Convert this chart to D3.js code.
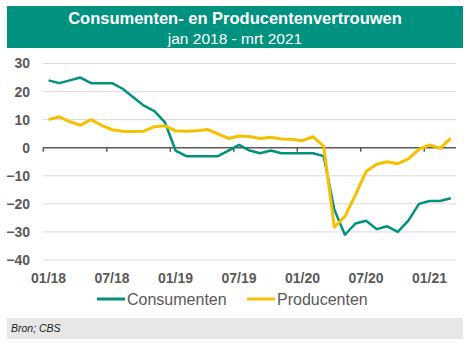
<!DOCTYPE html>
<html>
<head>
<meta charset="utf-8">
<script src="https://cdn.jsdelivr.net/npm/d3@7"></script>
<style>
  body { margin: 0; background: #fff; }
  svg { display: block; font-family: "Liberation Sans", Arial, sans-serif; }
</style>
</head>
<body>
<svg id="chart" width="470" height="349"></svg>
<script>
// maanden jan 2018 - mrt 2021
const months = []
for (let y = 18; y <= 21; y++) {
  for (let m = 1; m <= 12; m++) {
    if (y === 21 && m > 3) break
    months.push((m < 10 ? '0' + m : '' + m) + '/' + y)
  }
}
const consumenten = [24, 23, 24, 25, 23, 23, 23, 21, 18, 15, 13, 9,
  -1, -3, -3, -3, -3, -1, 1, -1, -2, -1, -2, -2,
  -2, -2, -3, -22, -31, -27, -26, -29, -28, -30, -26, -20,
  -19, -19, -18]
const producenten = [10, 11, 9.3, 8, 10, 8, 6.4, 5.9, 5.8, 5.9, 7.5, 7.8,
  6, 5.9, 6, 6.5, 4.9, 3.3, 4.2, 4, 3.3, 3.7, 3.1, 3,
  2.5, 3.9, 0.5, -28.3, -24.5, -16.8, -8.5, -5.9, -5, -5.7, -4, -0.6,
  1, -0.2, 3.3]
const yTicks = [30, 20, 10, 0, -10, -20, -30, -40]
const xLabels = ['01/18', '07/18', '01/19', '07/19', '01/20', '07/20', '01/21']

const teal = '#00917f'
const yellow = '#f5c000'
const grey = '#595959'

const svg = d3.select('#chart')

// titelbalk
svg.append('rect').attr('x', 7).attr('y', 6).attr('width', 456).attr('height', 42).attr('fill', teal)
svg.append('text').attr('x', 235).attr('y', 23.5).attr('text-anchor', 'middle')
  .attr('fill', '#fff').style('font-size', '16.5px').style('font-weight', 'bold')
  .text('Consumenten- en Producentenvertrouwen')
svg.append('text').attr('x', 235).attr('y', 44).attr('text-anchor', 'middle')
  .attr('fill', '#fff').style('font-size', '15.5px')
  .text('jan 2018 - mrt 2021')

const x = d3.scaleBand().domain(months).range([43.3, 456])
const y = d3.scaleLinear().domain([-40, 30]).range([260, 63.5])
const cx = d => x(d) + x.bandwidth() / 2

// rasterlijnen
svg.append('g').selectAll('line').data(yTicks.filter(d => d !== 0)).enter().append('line')
  .attr('x1', 43).attr('x2', 456)
  .attr('y1', d => y(d)).attr('y2', d => y(d))
  .attr('stroke', '#d9d9d9').attr('stroke-width', 1)

// y-as labels
const yAxis = d3.axisLeft(y).tickValues(yTicks).tickSize(0).tickPadding(0)
const gy = svg.append('g').attr('transform', 'translate(30,0)').call(yAxis)
gy.select('.domain').remove()
gy.selectAll('text').attr('fill', grey).style('font-size', '14px').style('font-weight', 'bold')
  .attr('font-family', null)

// nul-as met streepjes
svg.append('line').attr('x1', 43).attr('x2', 456).attr('y1', y(0)).attr('y2', y(0))
  .attr('stroke', grey).attr('stroke-width', 1.5)
svg.append('g').selectAll('line').data(months.filter((d, i) => i % 6 === 0)).enter().append('line')
  .attr('x1', d => x(d)).attr('x2', d => x(d))
  .attr('y1', y(0)).attr('y2', y(0) + 4)
  .attr('stroke', grey).attr('stroke-width', 1.5)

// x-as labels
svg.append('g').selectAll('text').data(xLabels).enter().append('text')
  .attr('x', d => cx(d)).attr('y', 283).attr('text-anchor', 'middle')
  .attr('fill', grey).style('font-size', '14px').style('font-weight', 'bold')
  .text(d => d)

const line = d3.line().x((d, i) => cx(months[i])).y(d => y(d))

svg.append('path').datum(consumenten).attr('d', line)
  .attr('fill', 'none').attr('stroke', teal).attr('stroke-width', 2.5).attr('stroke-linejoin', 'round')
svg.append('path').datum(producenten).attr('d', line)
  .attr('fill', 'none').attr('stroke', yellow).attr('stroke-width', 3).attr('stroke-linejoin', 'round')

// legenda
const legend = [
  {name: 'Consumenten', color: teal, x: 97},
  {name: 'Producenten', color: yellow, x: 247}
]
const lg = svg.append('g').selectAll('g').data(legend).enter().append('g')
lg.append('line').attr('x1', d => d.x).attr('x2', d => d.x + 28)
  .attr('y1', 299).attr('y2', 299).attr('stroke', d => d.color).attr('stroke-width', 3)
lg.append('text').attr('x', d => d.x + 30).attr('y', 305)
  .attr('fill', grey).style('font-size', '16px').text(d => d.name)

// bron
svg.append('rect').attr('x', 7).attr('y', 318).attr('width', 456).attr('height', 21).attr('fill', '#e7e7e7')
svg.append('text').attr('x', 11).attr('y', 332).attr('fill', '#222')
  .style('font-size', '10.5px').style('font-style', 'italic').text('Bron; CBS')
</script>
</body>
</html>
